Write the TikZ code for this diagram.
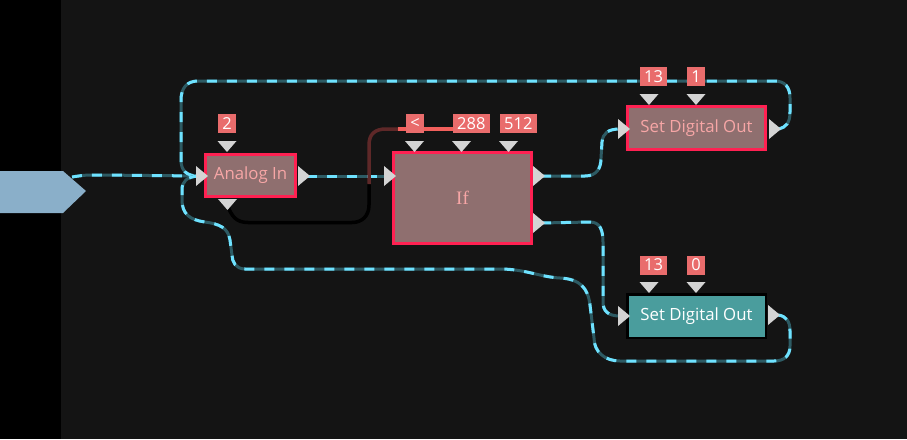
\documentclass[tikz,border=0pt]{standalone}
\usepackage{fontspec}
\setmainfont{Open Sans}
\newfontfamily\iffont{Liberation Serif}
\definecolor{bgdark}{HTML}{141414}
\definecolor{srcblue}{HTML}{8AAFC9}
\definecolor{nodefill}{HTML}{8F6F6F}
\definecolor{nodeborder}{HTML}{FF2152}
\definecolor{nodetext}{HTML}{F7A6A6}
\definecolor{pingray}{HTML}{D4D4D4}
\definecolor{labelfill}{HTML}{E96C6C}
\definecolor{tealfill}{HTML}{4A9D9D}
\definecolor{wirecyan}{HTML}{6EE2FF}
\definecolor{wiredark}{HTML}{2D5B64}
\definecolor{wiredarkred}{HTML}{5E2828}
\definecolor{wirered}{HTML}{F2605C}
\begin{document}
\begin{tikzpicture}[x=1pt,y=-1pt,
  block/.style={draw=nodeborder, line width=3pt, fill=nodefill, text=nodetext, inner sep=0pt, font=\fontsize{16.8}{19}\selectfont},
  tealblock/.style={draw=black, line width=2.5pt, fill=tealfill, text=white, inner sep=0pt, font=\fontsize{16.8}{19}\selectfont},
  lbl/.style={fill=labelfill, text=white, inner xsep=4pt, inner ysep=0pt, minimum height=19pt, minimum width=18pt, font=\fontsize{16.5}{19}\selectfont, anchor=west},
  wire/.style={draw=wirecyan, line width=3pt, dash pattern=on 10pt off 10pt, preaction={draw=wiredark, solid, line width=3pt}},
  pinR/.pic={\fill[pingray] (0,-10) -- (12,0) -- (0,10) -- cycle;},
  pinD/.pic={\fill[pingray] (-9.5,0) -- (9.5,0) -- (0,11) -- cycle;}
]
\useasboundingbox (0,0) rectangle (907,439);
\fill[bgdark] (0,0) rectangle (907,439);
\fill[black] (0,0) rectangle (61,439);
% source arrow
\fill[srcblue] (0,171) -- (63,171) -- (86,191) -- (63,213) -- (0,213) -- cycle;
\coordinate (src) at (72,177);
% ports
\coordinate (ai-in) at (198,176);
\coordinate (ai-out) at (307,176);
\coordinate (ai-bot) at (228,207);
\coordinate (if-in) at (388,176);
\coordinate (if-out1) at (541,176);
\coordinate (if-out2) at (541,223);
\coordinate (if-pin288) at (453,129);
\coordinate (sdo1-in) at (620,129);
\coordinate (sdo1-out) at (779,129);
\coordinate (sdo2-in) at (620,316);
\coordinate (sdo2-out) at (778,315);
% wires
\draw[wire] (src) .. controls (85,175) .. (100,175) -- (ai-in);
\draw[wire] (ai-out) -- (if-in);
\draw[wire] (if-out1) -- (585,176) .. controls (597,176) and (601,168) .. (601,158) -- (602,142) .. controls (603,133) and (608,129) .. (sdo1-in);
\draw[wire] (if-out2) -- (590,222) .. controls (600,222) and (603,230) .. (603,242) -- (603,302) .. controls (603,311) and (608,316) .. (sdo2-in);
\draw[wire] (sdo1-out) .. controls (786,127) and (790,123) .. (790,112) -- (790,98) .. controls (790,87) and (785,81) .. (774,81) -- (198,81) .. controls (187,81) and (181,88) .. (181,100) -- (181,160) .. controls (181,170) and (186,176) .. (ai-in);
\draw[wire] (sdo2-out) .. controls (786,316) and (790,321) .. (790,331) -- (790,346) .. controls (790,356) and (784,361) .. (774,361) -- (620,361) .. controls (605,361) and (594,352) .. (594,338) -- (590,305) .. controls (588,288) and (580,279) .. (560,278) .. controls (540,277) and (525,269) .. (500,269) -- (245,269) .. controls (236,269) and (232,262) .. (232,255) -- (230,240) .. controls (228,228) and (220,224) .. (205,222) .. controls (190,220) and (182,214) .. (182,200) -- (182,190) .. controls (182,181) and (187,177) .. (ai-in);
% black/red wire
\draw[black, line width=3.5pt] (ai-bot) .. controls (232,216) and (236,222.5) .. (248,222.5) -- (352,222.5) .. controls (362,222.5) and (369,216) .. (369,205) -- (369,183);
\draw[wiredarkred, line width=3.5pt] (369,184) -- (369,145) .. controls (369,134) and (375,129) .. (386,129) -- (399,129);
\draw[wirered, line width=3.5pt] (398,129) -- (if-pin288);
% nodes
\node[block, minimum width=90pt, minimum height=42pt] (ai) at (250.5,175.5) {Analog In};
\node[block, minimum width=138pt, minimum height=91pt, font=\iffont\fontsize{19}{21}\selectfont] (if) at (462.5,198) {If};
\node[block, minimum width=138pt, minimum height=43pt] (sdo1) at (696.5,128) {Set Digital Out};
\node[tealblock, minimum width=138.5pt, minimum height=43.5pt] (sdo2) at (696.5,316) {Set Digital Out};
% pins
\pic at (196,176) {pinR};
\pic at (298,176) {pinR};
\pic at (227,141) {pinD};
\pic at (227.5,199) {pinD};
\pic at (384,176) {pinR};
\pic at (414.5,141) {pinD};
\pic at (461.5,141) {pinD};
\pic at (508.5,141) {pinD};
\pic at (533,176) {pinR};
\pic at (533,223) {pinR};
\pic at (618,129) {pinR};
\pic at (769,129) {pinR};
\pic at (649,94) {pinD};
\pic at (696,94) {pinD};
\pic at (618,316) {pinR};
\pic at (768,315) {pinR};
\pic at (649,282) {pinD};
\pic at (696,282) {pinD};
% labels
\node[lbl] (l2) at (218,123.5) {2};
\node[lbl] (llt) at (406,123.5) {<};
\node[lbl] (l288) at (453,123.5) {288};
\node[lbl] (l512) at (500,123.5) {512};
\node[lbl] (l13a) at (640,76.5) {13};
\node[lbl] (l1) at (687,76.5) {1};
\node[lbl] (l13b) at (640,265) {13};
\node[lbl] (l0) at (687,265) {0};
\end{tikzpicture}
\end{document}
